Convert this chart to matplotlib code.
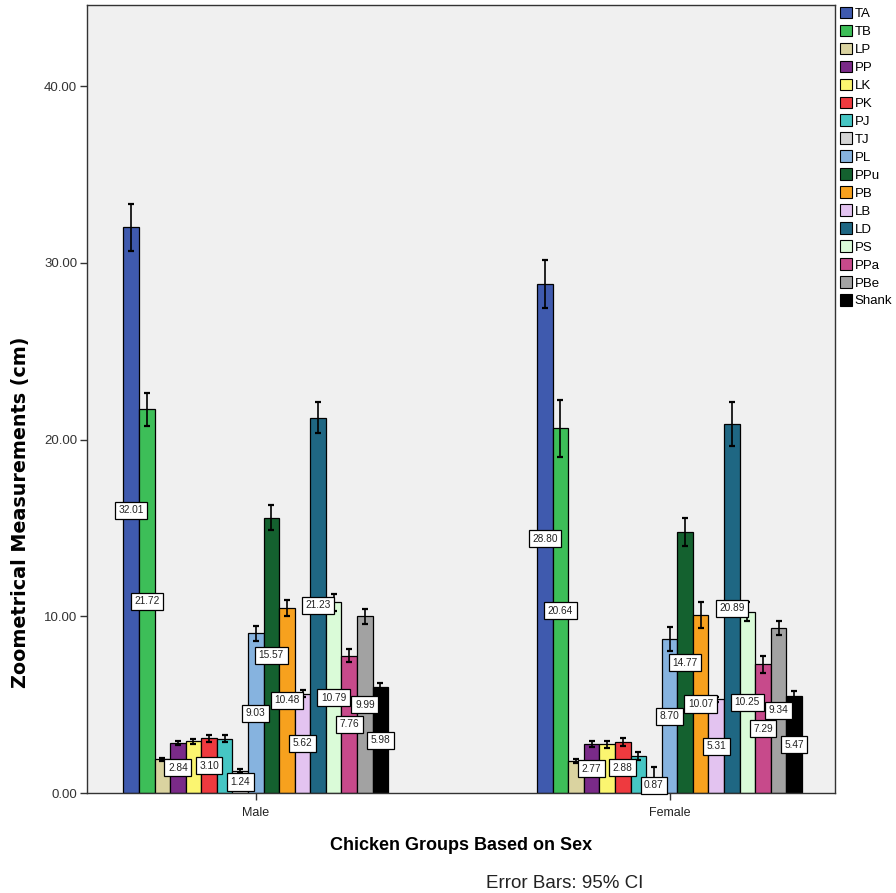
import matplotlib
matplotlib.use("Agg")
import matplotlib.pyplot as plt
import numpy as np
from matplotlib.patches import Patch

groups = ["Male", "Female"]
traits = ["TA", "TB", "LP", "PP", "LK", "PK", "PJ", "TJ", "PL", "PPu",
          "PB", "LB", "LD", "PS", "PPa", "PBe", "Shank"]
male_means = [32.01, 21.72, 1.90, 2.84, 2.93, 3.10, 3.08, 1.24, 9.03, 15.57,
              10.48, 5.62, 21.23, 10.79, 7.76, 9.99, 5.98]
female_means = [28.80, 20.64, 1.80, 2.77, 2.75, 2.88, 2.08, 0.87, 8.70, 14.77,
                10.07, 5.31, 20.89, 10.25, 7.29, 9.34, 5.47]
male_ci = [1.35, 0.92, 0.08, 0.12, 0.15, 0.20, 0.20, 0.10, 0.42, 0.71,
           0.45, 0.20, 0.88, 0.50, 0.37, 0.42, 0.25]
female_ci = [1.36, 1.62, 0.10, 0.15, 0.20, 0.22, 0.22, 0.62, 0.68, 0.79,
             0.75, 0.15, 1.25, 0.54, 0.47, 0.40, 0.28]
hidden_labels = ["LP", "LK", "PJ"]
yticks = [0, 10, 20, 30, 40]

colors = ["#3F5AAE", "#3DBE58", "#DAD3A0", "#7A2A88", "#FBF570", "#EE3A3F",
          "#46C6C4", "#D4D4D4", "#86B3DF", "#14612F", "#F7A11E", "#E3C3F0",
          "#1F6783", "#DAFBD8", "#C74A8B", "#A2A2A2", "#000000"]

plt.rcParams['font.family'] = ['Liberation Sans', 'DejaVu Sans']

fig = plt.figure(figsize=(8.96, 8.93), dpi=100)
ax = fig.add_axes([87/896, 1-793/893, (835-87)/896, (793-5)/893])
ax.set_facecolor("#F0F0F0")

n = len(traits)
group_w = 0.64
bw = group_w / n
x = np.arange(len(groups))
data = [male_means, female_means]
cis = [male_ci, female_ci]

for i, t in enumerate(traits):
    off = -group_w/2 + bw*(i+0.5)
    vals = [data[g][i] for g in range(len(groups))]
    errs = [cis[g][i] for g in range(len(groups))]
    ax.bar(x + off, vals, width=bw, color=colors[i], edgecolor="black",
           linewidth=0.9, label=t, zorder=2)
    ax.errorbar(x + off, vals, yerr=errs, fmt="none", ecolor="black",
                elinewidth=1.2, capsize=2, capthick=1.6, zorder=3)
    if t not in hidden_labels:
        for g in range(len(groups)):
            ax.text(x[g] + off, vals[g]/2, f"{vals[g]:.2f}", ha="center",
                    va="center", fontsize=7.3, color="#222222", zorder=5,
                    bbox=dict(boxstyle="square,pad=0.35", facecolor="white",
                              edgecolor="black", linewidth=0.9))

ax.set_xlim(-0.408, 1.40)
ax.set_ylim(0, 44.6)
ax.set_xticks(x)
ax.set_xticklabels(groups, fontsize=9, color="#222222")
ax.set_yticks(yticks)
ax.set_yticklabels([f"{v:.2f}" for v in yticks], fontsize=9.5, color="#333333")
ax.tick_params(axis="y", direction="out", length=5, width=1, color="#333333", pad=2)
ax.tick_params(axis="x", direction="out", length=5, width=1, color="#333333", pad=5)
for s in ax.spines.values():
    s.set_linewidth(1.0)
    s.set_color("#333333")

fig.text(21/896, 1-512/893, "Zoometrical Measurements (cm)", rotation=90,
         ha="center", va="center", fontsize=13.8, fontweight="bold",
         family="DejaVu Sans")
ax.set_xlabel("Chicken Groups Based on Sex", fontsize=13, fontweight="bold",
              labelpad=13)
fig.text(565/896, 1-883/893, "Error Bars: 95% CI", ha="center", va="center",
         fontsize=13.5, color="#222222")

handles = [Patch(facecolor=c, edgecolor="black", linewidth=0.8) for c in colors]
fig.legend(handles, traits, loc="upper left", bbox_to_anchor=(837/896, 1-4/893),
           frameon=False, fontsize=9.5, handlelength=0.95, handleheight=0.95,
           handletextpad=0.2, labelspacing=0.36, borderaxespad=0, borderpad=0.2)

fig.savefig("out.png", dpi=100)
